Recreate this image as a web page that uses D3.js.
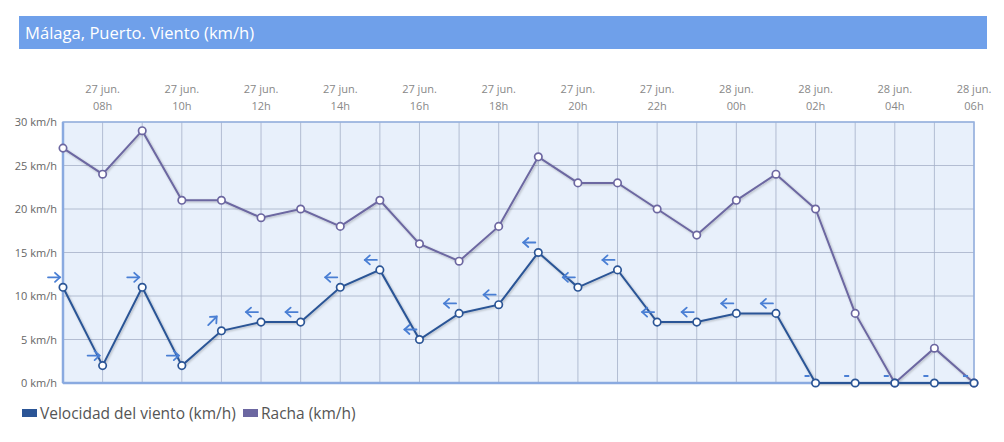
<!DOCTYPE html>
<html>
<head>
<meta charset="utf-8">
<script src="https://cdn.jsdelivr.net/npm/d3@7"></script>
<style>
  body { margin: 0; background: #fff; font-family: "Open Sans", sans-serif; }
</style>
</head>
<body>
<div id="chart"></div>
<script>
// hourly observations, 27 jun 07h -> 28 jun 06h
const hours = ["07h","08h","09h","10h","11h","12h","13h","14h","15h","16h","17h","18h",
  "19h","20h","21h","22h","23h","00h","01h","02h","03h","04h","05h","06h"];
const days = ["27 jun.","27 jun.","27 jun.","27 jun.","27 jun.","27 jun.","27 jun.","27 jun.",
  "27 jun.","27 jun.","27 jun.","27 jun.","27 jun.","27 jun.","27 jun.","27 jun.","27 jun.",
  "28 jun.","28 jun.","28 jun.","28 jun.","28 jun.","28 jun.","28 jun."];
const windSpeed = [11, 2, 11, 2, 6, 7, 7, 11, 13, 5, 8, 9, 15, 11, 13, 7, 7, 8, 8, 0, 0, 0, 0, 0];
const gust = [27, 24, 29, 21, 21, 19, 20, 18, 21, 16, 14, 18, 26, 23, 23, 20, 17, 21, 24, 20, 8, 0, 4, 0];
// direction the wind comes from; C = calm
const windDir = ["O","O","O","O","SO","E","E","E","E","E","E","E","E","E","E","E","E","E","E",
  "C","C","C","C","C"];
const yTicks = [0, 5, 10, 15, 20, 25, 30];

const width = 1004;
const height = 442;
const margin = { top: 122, right: 30, bottom: 59, left: 63 };
const plotW = width - margin.left - margin.right;
const plotH = height - margin.top - margin.bottom;

const svg = d3.select("#chart").append("svg")
  .attr("width", width)
  .attr("height", height);

const defs = svg.append("defs");
const shadow = defs.append("filter").attr("id", "shadow")
  .attr("x", "-5%").attr("y", "-5%").attr("width", "110%").attr("height", "120%");
shadow.append("feDropShadow")
  .attr("dx", 1).attr("dy", 1).attr("stdDeviation", 1)
  .attr("flood-color", "#000").attr("flood-opacity", 0.25);

// title bar
svg.append("rect")
  .attr("x", 19).attr("y", 16)
  .attr("width", 968).attr("height", 33)
  .attr("fill", "#6fa0ea");
svg.append("text")
  .attr("x", 25).attr("y", 39)
  .attr("fill", "#fff")
  .attr("font-size", 16.6)
  .text("Málaga, Puerto. Viento (km/h)");

const x = d3.scaleLinear()
  .domain([0, hours.length - 1])
  .range([0, plotW]);
const y = d3.scaleLinear()
  .domain([0, 30])
  .range([plotH, 0]);

const g = svg.append("g")
  .attr("transform", `translate(${margin.left},${margin.top})`);

g.append("rect")
  .attr("width", plotW).attr("height", plotH)
  .attr("fill", "#e8f0fb");

// grid
g.append("g")
  .selectAll("line")
  .data(d3.range(hours.length))
  .join("line")
  .attr("x1", (d) => x(d)).attr("x2", (d) => x(d))
  .attr("y1", 0).attr("y2", plotH)
  .attr("stroke", "#a4b0c8").attr("stroke-width", 0.8);
g.append("g")
  .selectAll("line")
  .data(yTicks)
  .join("line")
  .attr("x1", 0).attr("x2", plotW)
  .attr("y1", (d) => y(d)).attr("y2", (d) => y(d))
  .attr("stroke", "#a4b0c8").attr("stroke-width", 0.8);

// frame
g.append("rect")
  .attr("width", plotW).attr("height", plotH)
  .attr("fill", "none")
  .attr("stroke", "#95b1e0").attr("stroke-width", 1.5);
g.append("line")
  .attr("x1", 0).attr("x2", 0).attr("y1", 0).attr("y2", plotH)
  .attr("stroke", "#8aaae0").attr("stroke-width", 2.5);
g.append("line")
  .attr("x1", 0).attr("x2", plotW).attr("y1", plotH).attr("y2", plotH)
  .attr("stroke", "#8aaae0").attr("stroke-width", 2.5);

// y axis labels
const yAxis = d3.axisLeft(y)
  .tickValues(yTicks)
  .tickSize(0)
  .tickPadding(6)
  .tickFormat((d) => d + " km/h");
g.append("g")
  .call(yAxis)
  .call((a) => a.select(".domain").remove())
  .call((a) => a.selectAll("text")
    .attr("fill", "#666")
    .attr("font-family", "Open Sans")
    .attr("font-size", 11));

// top time labels, every two hours
const labelIdx = d3.range(1, hours.length, 2);
const topAxis = g.append("g")
  .selectAll("text")
  .data(labelIdx)
  .join("text")
  .attr("x", (d) => x(d))
  .attr("text-anchor", "middle")
  .attr("fill", "#888")
  .attr("font-size", 11);
topAxis.append("tspan").attr("x", (d) => x(d)).attr("y", -29).text((d) => days[d]);
topAxis.append("tspan").attr("x", (d) => x(d)).attr("y", -12).text((d) => hours[d]);

const line = d3.line()
  .x((d, i) => x(i))
  .y((d) => y(d));

const series = [
  { values: gust, color: "#6c67a1" },
  { values: windSpeed, color: "#2b5596" }
];

series.forEach((s) => {
  g.append("path")
    .datum(s.values)
    .attr("d", line)
    .attr("fill", "none")
    .attr("stroke", s.color)
    .attr("stroke-width", 2)
    .attr("filter", "url(#shadow)");
});

series.forEach((s) => {
  g.append("g")
    .selectAll("circle")
    .data(s.values)
    .join("circle")
    .attr("cx", (d, i) => x(i))
    .attr("cy", (d) => y(d))
    .attr("r", 3.7)
    .attr("fill", "#fff")
    .attr("stroke", s.color)
    .attr("stroke-width", 1.7);
});

// wind direction symbols (arrow points where the wind goes)
const arrowAngle = { O: 0, SO: -45, E: 180 };
const dirColor = "#4a7fd4";
const dirs = g.append("g");
windDir.forEach((dir, i) => {
  const cx = x(i) - 9;
  const cy = y(windSpeed[i]) - 10;
  if (dir === "C") {
    dirs.append("line")
      .attr("x1", cx - 2).attr("x2", cx + 3)
      .attr("y1", cy + 3).attr("y2", cy + 3)
      .attr("stroke", dirColor).attr("stroke-width", 2);
    return;
  }
  const a = dirs.append("g")
    .attr("transform", `translate(${cx},${cy}) rotate(${arrowAngle[dir]})`)
    .attr("stroke", dirColor)
    .attr("stroke-width", 1.8)
    .attr("fill", "none")
    .attr("stroke-linecap", "round");
  a.append("line").attr("x1", -6).attr("x2", 6).attr("y1", 0).attr("y2", 0);
  a.append("path").attr("d", "M1,-4.5 L6,0 L1,4.5");
});

// legend
const legendItems = [
  { label: "Velocidad del viento (km/h)", color: "#2b5596", x: 22 },
  { label: "Racha (km/h)", color: "#6c67a1", x: 243 }
];
const legend = svg.append("g");
legendItems.forEach((d) => {
  legend.append("rect")
    .attr("x", d.x).attr("y", 409)
    .attr("width", 15).attr("height", 8)
    .attr("fill", d.color);
  legend.append("text")
    .attr("x", d.x + 18).attr("y", 419)
    .attr("fill", "#555")
    .attr("font-size", 15.5)
    .text(d.label);
});
</script>
</body>
</html>
